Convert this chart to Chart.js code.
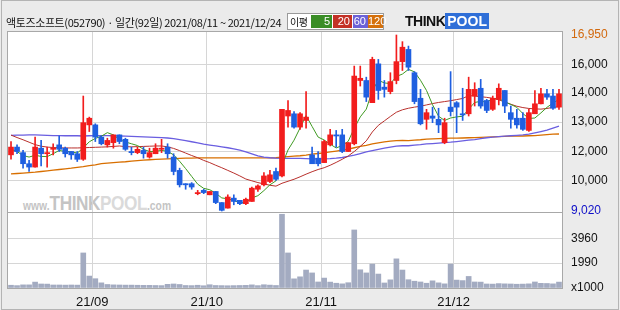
<!DOCTYPE html>
<html>
<head>
<meta charset="utf-8">
<script src="https://cdn.jsdelivr.net/npm/chart.js@4/dist/chart.umd.min.js"></script>
<style>
  body { margin: 0; background: #fff; }
  #wrap { position: relative; width: 620px; height: 310px; background: #ebebeb; overflow: hidden; font-family: 'Liberation Sans', Arial, sans-serif; }
  #outer { position: absolute; left: 1px; top: 0; width: 616px; height: 308px; border: 1px solid #b4b4b4; }
  #plotbg { position: absolute; left: 7px; top: 31px; width: 554px; height: 256px; background: #fff; border: 1px solid #a8a8a8; }
  #wm { position: absolute; left: 23px; top: 192px; color: #c4c4c4; white-space: nowrap; transform: scaleX(0.86); transform-origin: 0 0; }
  #wm .s { font-size: 12px; font-weight: bold; }
  #wm .b { font-size: 20px; font-weight: bold; letter-spacing: -0.5px; }
  #wm .p { color: #dadada; }
  #chart { position: absolute; left: 0; top: 0; }
  #title { position: absolute; left: 6px; top: 14px; font: 11px 'Noto Sans CJK KR', sans-serif; letter-spacing: -0.4px; color: #111; white-space: nowrap; line-height: 16px; }
  #malegend { position: absolute; left: 287px; top: 13px; width: 95px; height: 15px; background: #fff; border: 1px solid #9a9a9a; font: 11px 'Liberation Sans', sans-serif; }
  #malegend span { position: absolute; top: 1px; height: 13px; line-height: 13px; color: #fff; text-align: right; padding-right: 2px; box-sizing: border-box; white-space: nowrap; }
  #malegend .lbl { left: 2px; top: 0; width: 21px; color: #111; text-align: left; padding: 0; font: 10px 'Noto Sans CJK KR', sans-serif; line-height: 15px; letter-spacing: -0.5px; }
  #logo { position: absolute; left: 405px; top: 13px; height: 16px; font: bold 14px 'Liberation Sans', sans-serif; white-space: nowrap; }
  #logo .t { color: #111; letter-spacing: -0.5px; }
  #logo .p { color: #fff; background: #2f6fd8; padding: 0 2px; }
</style>
</head>
<body>
<div id="wrap">
  <div id="outer"></div>
  <div id="plotbg"></div>
  <div id="wm"><span class="s">www.</span><span class="b">THINK</span><span class="b p">POOL</span><span class="s">.com</span></div>
  <canvas id="chart" width="620" height="310"></canvas>
  <div id="title">액토즈소프트(052790) · 일간(92일) 2021/08/11 ~ 2021/12/24</div>
  <div id="malegend">
    <span class="lbl">이평</span>
    <span style="left:23px;width:21px;background:#3a8d26">5</span>
    <span style="left:45px;width:19px;background:#c33126">20</span>
    <span style="left:65px;width:15px;background:#6c62d7">60</span>
    <span style="left:80px;width:15px;background:#d5700b">120</span>
  </div>
  <div id="logo"><span class="t">THINK</span><span class="p">POOL</span></div>
</div>
<script>
// trading days 2021/08/11 ~ 2021/12/24
var dates = ['21/08/11','21/08/12','21/08/13','21/08/17','21/08/18','21/08/19','21/08/20','21/08/23','21/08/24','21/08/25','21/08/26','21/08/27','21/08/30','21/08/31',
  '21/09/01','21/09/02','21/09/03','21/09/06','21/09/07','21/09/08','21/09/09','21/09/10','21/09/13','21/09/14','21/09/15','21/09/16','21/09/17','21/09/23','21/09/24','21/09/27','21/09/28','21/09/29','21/09/30',
  '21/10/01','21/10/05','21/10/06','21/10/07','21/10/08','21/10/12','21/10/13','21/10/14','21/10/15','21/10/18','21/10/19','21/10/20','21/10/21','21/10/22','21/10/25','21/10/26','21/10/27','21/10/28','21/10/29',
  '21/11/01','21/11/02','21/11/03','21/11/04','21/11/05','21/11/08','21/11/09','21/11/10','21/11/11','21/11/12','21/11/15','21/11/16','21/11/17','21/11/18','21/11/19','21/11/22','21/11/23','21/11/24','21/11/25','21/11/26','21/11/29','21/11/30',
  '21/12/01','21/12/02','21/12/03','21/12/06','21/12/07','21/12/08','21/12/09','21/12/10','21/12/13','21/12/14','21/12/15','21/12/16','21/12/17','21/12/20','21/12/21','21/12/22','21/12/23','21/12/24'];

var opens = [11550,11900,11650,11150,11000,11850,11600,11800,12000,11850,11700,11600,11350,12900,
  12900,12350,12000,12100,12450,12250,11700,11650,11750,11450,11600,11800,11900,11450,10850,10250,10250,9800,9950,
  9750,9900,9400,9150,9600,9500,9350,9450,10000,10200,10350,10800,10600,13300,13400,12800,13100,11550,11400,
  11200,12000,12450,12450,11700,12050,14900,14900,13900,15650,14600,14400,14900,15750,16300,15250,14100,13150,13300,13150,12100,13700,
  13900,13400,13400,14200,14550,14000,13600,14050,14450,13450,13200,13200,12650,13400,13850,14300,14200,13700];
var highs = [12150,12000,11750,11300,12350,12200,11900,12050,12400,11900,11700,11700,14200,13250,
  12950,12400,12300,12450,12450,12300,11900,11900,11900,11850,12050,12250,12050,11600,10950,10250,10300,9950,10000,
  9900,9900,9400,9750,9750,9500,9600,10100,10200,10750,10850,10950,13600,14000,13500,13450,14400,11900,11700,
  12200,12700,12650,12700,12100,15550,15550,15050,15950,15850,14900,15250,16950,16650,16450,15300,14500,13600,13700,13650,13200,15300,
  13950,14550,15050,14800,14950,14050,14200,14750,14450,13750,13600,13450,13600,14450,14550,14500,14500,14500];
var lows = [11350,11600,10950,10800,11000,11050,11000,11550,11700,11450,11350,11250,11300,12600,
  12150,12000,11900,11850,12050,11750,11550,11600,11400,11400,11600,11650,11400,10650,10100,10000,10000,9750,9800,
  9750,9350,9020,9150,9300,9300,9300,9450,9900,10150,10300,10400,10550,12800,12750,12700,12750,11150,11050,
  11200,11950,11900,11650,11700,12000,14650,13950,13900,14050,14150,14300,14750,15350,15350,13850,12900,12700,13000,12550,12050,13300,
  12550,13100,13300,13750,13650,13450,13550,13800,13450,12750,12750,12650,12600,13400,13850,14050,13600,13600];
var closes = [11900,11700,11150,11000,11900,11600,11650,11850,11800,11600,11550,11350,13000,13200,
  12350,12050,12200,12450,12150,11800,11650,11800,11600,11650,11850,11850,11600,10800,10200,10200,10100,9850,9850,
  9900,9400,9050,9650,9450,9350,9550,10050,10150,10600,10650,10450,13600,13550,12800,13400,13250,11150,11150,
  12150,12450,12400,11700,12100,15100,15000,14150,15850,14450,14500,14850,15750,16400,15500,13950,12950,13450,13200,12900,13000,13500,
  13700,13350,14500,14500,13750,13550,14100,14550,13750,13150,12900,12700,13450,13850,14300,14150,13650,14300];
// volume, x1000 shares
var volumes = [220,190,250,250,470,320,310,240,240,230,240,230,2790,950,
  740,410,280,250,240,230,230,220,210,210,200,190,290,320,280,200,190,220,180,
  260,200,190,180,190,200,210,250,190,260,230,200,5870,2790,730,890,1430,1200,480,
  790,470,380,330,420,4620,1450,1200,1900,1110,400,650,2320,1430,660,540,480,380,570,410,330,1900,
  630,590,920,480,470,320,310,350,330,320,300,310,330,480,370,360,330,470];
// moving averages
var ma5 = [11800,11700,11520,11450,11530,11480,11470,11600,11750,11700,11690,11630,11860,12140,
  12290,12390,12550,12450,12240,12130,12050,11970,11800,11700,11710,11750,11710,11550,11260,10930,10580,10230,10040,
  9980,9820,9610,9570,9490,9390,9410,9610,9710,9940,10200,10380,11090,11770,12210,12760,13320,12830,12350,
  12220,12030,11860,11970,12160,12750,13260,13610,14440,14910,14790,14760,15080,15190,15400,15290,14910,14450,13810,13290,13100,13210,
  13260,13290,13610,13910,13960,13930,14080,14090,13940,13820,13690,13410,13190,13210,13440,13690,13880,14050];
var ma20 = [12440,12330,12230,12120,12010,11940,11900,11880,11870,11860,11860,11860,11870,11880,
  11890,11900,11910,11930,11950,11920,11910,11920,11930,11940,11950,11950,11910,11840,11740,11630,11520,11420,11300,
  11200,11080,10970,10850,10730,10600,10460,10380,10300,10240,10180,10140,10270,10360,10450,10560,10680,10790,10890,
  10970,11080,11210,11350,11500,11700,11930,12180,12580,12880,13080,13280,13470,13580,13650,13700,13740,13800,13860,13910,13950,13990,
  14040,14090,14220,14200,14170,14140,14100,14030,13930,13830,13740,13680,13640,13620,13610,13640,13690,13720];
var ma60 = [12430,12440,12440,12450,12450,12440,12430,12420,12420,12410,12410,12410,12400,12410,
  12420,12420,12420,12410,12400,12390,12380,12370,12360,12350,12340,12330,12310,12280,12240,12190,12140,12090,12030,
  11990,11950,11910,11870,11820,11760,11680,11590,11500,11450,11420,11400,11390,11390,11390,11390,11380,11370,11370,
  11370,11380,11400,11430,11480,11540,11610,11680,11740,11800,11850,11900,11940,11960,11960,11990,12010,12040,12060,12080,12100,12120,
  12150,12180,12210,12240,12280,12320,12350,12370,12390,12410,12430,12450,12480,12540,12600,12660,12750,12840];
var ma120 = [10690,10710,10730,10750,10770,10800,10830,10860,10890,10920,10950,10990,11020,11060,
  11100,11150,11180,11200,11220,11240,11270,11290,11310,11330,11350,11360,11370,11380,11390,11400,11400,11410,11410,
  11410,11410,11410,11410,11410,11410,11410,11410,11410,11410,11410,11420,11450,11470,11490,11510,11540,11580,11610,
  11640,11680,11720,11760,11810,11870,11930,11980,12040,12090,12130,12170,12190,12200,12190,12210,12230,12260,12270,12280,12290,12300,
  12300,12310,12320,12330,12340,12350,12360,12370,12380,12390,12400,12400,12410,12420,12440,12460,12480,12490];

// right axis: grid lines with their printed labels
var priceGrid = [15620, 14330, 13030, 11690, 10380];
var priceGridLabels = ['16,000', '14,000', '13,000', '12,000', '10,000'];
var volumeTicks = [1990, 3960];
var volumeUnit = 'x1000';

var upColor = '#f21d1d', downColor = '#1f5fe0';
var candleColors = closes.map(function (c, i) { return c >= opens[i] ? upColor : downColor; });
var wicks = lows.map(function (l, i) { return [l, highs[i]]; });
var bodies = opens.map(function (o, i) { return [o, closes[i]]; });
var maxPrice = Math.max.apply(null, highs);
var minPrice = Math.min.apply(null, lows);

var monthStarts = [];
dates.forEach(function (d, i) {
    if (i > 0 && d.substr(3, 2) != dates[i - 1].substr(3, 2)) monthStarts.push(i);
});

var grid = '#d6d6d6', frame = '#a8a8a8';
var tickFont = { family: "'Liberation Sans', Arial, sans-serif", size: 12 };

var ctx = document.getElementById('chart');
var chart = new Chart(ctx, {
    type: 'bar',
    data: {
        labels: dates,
        datasets: [
            { label: 'body', data: bodies, yAxisID: 'y', backgroundColor: candleColors, barThickness: 5, minBarLength: 1, grouped: false, order: 0 },
            { label: 'wick', data: wicks, yAxisID: 'y', backgroundColor: candleColors, barThickness: 1, grouped: false, order: 1 },
            { type: 'line', label: '5', data: ma5, yAxisID: 'y', borderColor: '#3f9a22', borderWidth: 1, pointRadius: 0, order: 2 },
            { type: 'line', label: '20', data: ma20, yAxisID: 'y', borderColor: '#b8302c', borderWidth: 1, pointRadius: 0, order: 3 },
            { type: 'line', label: '60', data: ma60, yAxisID: 'y', borderColor: '#6a5ee0', borderWidth: 1.3, pointRadius: 0, order: 4 },
            { type: 'line', label: '120', data: ma120, yAxisID: 'y', borderColor: '#d86f00', borderWidth: 1.3, pointRadius: 0, order: 5 },
            { label: 'volume', data: volumes, yAxisID: 'yv', backgroundColor: '#a3abc1', barThickness: 5, grouped: false, order: 6 }
        ]
    },
    options: {
        responsive: false,
        animation: false,
        devicePixelRatio: 1,
        layout: { padding: { left: 8, top: 32, right: 0, bottom: 0 } },
        plugins: { legend: { display: false }, tooltip: { enabled: false } },
        scales: {
            x: {
                offset: true,
                border: { display: false },
                grid: {
                    offset: true,
                    drawTicks: false,
                    color: function (c) { return monthStarts.indexOf(c.index) >= 0 ? grid : 'rgba(0,0,0,0)'; }
                },
                ticks: {
                    autoSkip: false,
                    maxRotation: 0,
                    padding: 7,
                    labelOffset: -3,
                    color: '#111',
                    font: { family: tickFont.family, size: 13 },
                    callback: function (v, i) { return monthStarts.indexOf(i) >= 0 ? dates[i].substr(0, 5) : ''; }
                },
                afterFit: function (s) { s.height = 22; }
            },
            y: {
                position: 'right',
                stack: 'panes',
                stackWeight: 180,
                min: 8975,
                max: 17085,
                border: { display: false },
                grid: {
                    drawTicks: false,
                    color: function (c) { return priceGrid.indexOf(c.tick.value) >= 0 ? grid : 'rgba(0,0,0,0)'; }
                },
                afterBuildTicks: function (s) {
                    s.ticks = [maxPrice].concat(priceGrid, [minPrice]).map(function (v) { return { value: v }; });
                },
                ticks: {
                    autoSkip: false,
                    padding: 9,
                    font: tickFont,
                    color: function (c) {
                        if (c.tick.value === maxPrice) return '#d2690e';
                        if (c.tick.value === minPrice) return '#1010c8';
                        return '#111';
                    },
                    callback: function (v) {
                        var k = priceGrid.indexOf(v);
                        if (k >= 0) return priceGridLabels[k];
                        return v.toLocaleString('en-US');
                    }
                },
                afterFit: function (s) { s.width = 58; }
            },
            yv: {
                position: 'right',
                stack: 'panes',
                stackWeight: 76,
                min: 0,
                max: 6050,
                border: { display: false },
                grid: {
                    drawTicks: false,
                    color: function (c) {
                        if (c.tick.value === 6050) return frame;
                        if (volumeTicks.indexOf(c.tick.value) >= 0) return grid;
                        return 'rgba(0,0,0,0)';
                    }
                },
                afterBuildTicks: function (s) {
                    s.ticks = [0].concat(volumeTicks, [6050]).map(function (v) { return { value: v }; });
                },
                ticks: {
                    autoSkip: false,
                    padding: 9,
                    color: '#111',
                    font: { family: "'Liberation Sans Narrow', 'Liberation Sans', sans-serif", size: 12 },
                    callback: function (v) {
                        if (v === 0) return volumeUnit;
                        if (volumeTicks.indexOf(v) >= 0) return String(v);
                        return '';
                    }
                },
                afterFit: function (s) { s.width = 58; }
            }
        }
    }
});
</script>
</body>
</html>
